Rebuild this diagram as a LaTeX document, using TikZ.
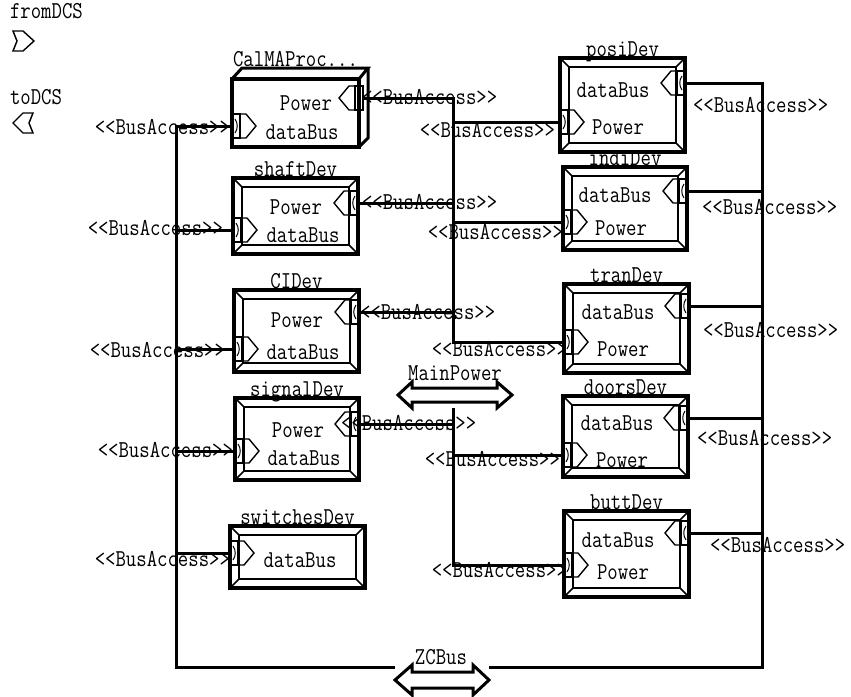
\documentclass[tikz,border=0pt]{standalone}
\usepackage{fontspec}
\usepackage{graphicx}
\newcommand\tx[1]{\scalebox{1}[1.2]{#1}}
\newcommand\ba{<{}<BusAccess>{}>}
\tikzset{
  frame/.style={draw, line width=3.6pt, inner sep=0pt, outer sep=0pt, rectangle},
  innerframe/.style={line width=2.4pt},
  bevel/.style={line width=1.6pt},
  bus/.style={line width=3pt, line join=miter},
  portline/.style={line width=1.4pt, line join=miter},
  txt/.style={inner sep=0pt, outer sep=0pt},
  portR/.pic={
    \draw[portline] (0,-12) rectangle (8,12);
    \draw[portline] (8,-12) -- (14,-12) -- (24,0) -- (14,12) -- (8,12);
    \draw[line width=1pt] (3,-7) .. controls (6,-3) and (6,3) .. (3,7);
  }
}
% text node: name, x, y, anchor, text
\newcommand\lab[5]{\node[txt,anchor=#4] (#1) at (#2,#3) {\tx{#5}};}
% device frame: name, x1, y1, x2, y2, title
\newcommand\devbox[6]{%
  \node[frame, minimum width={#4-#2}, minimum height={#5-#3}] (#1) at ({(#2+#4)/2},{(#3+#5)/2}) {};
  \draw[innerframe] ([shift={(9,9)}]#1.north west) rectangle ([shift={(-9,-9)}]#1.south east);
  \draw[bevel] (#1.north west) -- ++(9,9) (#1.north east) -- ++(-9,9)
               (#1.south west) -- ++(9,-9) (#1.south east) -- ++(-9,-9);
  \node[txt, anchor=base] (#1-t) at ([yshift=2pt]#1.north) {\tx{#6}};
}
\begin{document}
\begin{tikzpicture}[x=1pt, y=-1pt, font=\ttfamily\fontsize{20.2}{24}\selectfont]
\fill[white] (0,0) rectangle (851,696);
\useasboundingbox (0,0) rectangle (851,696);

% legend
\lab{lfrom}{10}{19}{base west}{fromDCS}
\draw[portline] (13,31) -- (23,31) -- (34,41) -- (23,51) -- (13,51) -- (17,41) -- cycle;
\lab{lto}{10}{104}{base west}{toDCS}
\draw[portline] (33,113) -- (23,113) -- (13,123) -- (23,133) -- (33,133) -- (29,123) -- cycle;

% CalMAProc (3D block)
\node[frame, minimum width=127, minimum height=68] (cal) at (295.5,113) {};
\draw[line width=3pt, line join=miter] (cal.north west) -- ([shift={(10,-11)}]cal.north west)
   -- ([shift={(9,-11)}]cal.north east) -- (cal.north east);
\draw[line width=3pt, line join=miter] ([shift={(9,-11)}]cal.north east) -- ([shift={(9,-9)}]cal.south east) -- (cal.south east);
\node[txt, anchor=base] (cal-t) at ([yshift=13pt]cal.north) {\tx{CalMAProc...}};
\lab{cal-pw}{306}{110}{base}{Power}
\lab{cal-db}{302}{139}{base}{dataBus}

% left column devices
\devbox{shaft}{233}{178}{358}{254}{shaftDev}
\lab{shaft-pw}{296}{214}{base}{Power}
\lab{shaft-db}{303}{242}{base}{dataBus}
\devbox{ci}{234}{290}{359}{372}{CIDev}
\lab{ci-pw}{297}{327}{base}{Power}
\lab{ci-db}{303}{359}{base}{dataBus}
\devbox{signal}{235}{398}{359}{480}{signalDev}
\lab{signal-pw}{298}{437}{base}{Power}
\lab{signal-db}{304}{465}{base}{dataBus}
\devbox{switches}{230}{526}{365}{588}{switchesDev}
\lab{switches-db}{300}{567}{base}{dataBus}

% right column devices
\devbox{posi}{560}{58}{685}{152}{posiDev}
\lab{posi-db}{613}{97}{base}{dataBus}
\lab{posi-pw}{618}{134}{base}{Power}
\devbox{indi}{563}{167}{687}{250}{indiDev}
\lab{indi-db}{615}{202}{base}{dataBus}
\lab{indi-pw}{621}{235}{base}{Power}
\devbox{tran}{564}{284}{689}{373}{tranDev}
\lab{tran-db}{618}{319}{base}{dataBus}
\lab{tran-pw}{623}{356}{base}{Power}
\devbox{doors}{563}{396}{688}{477}{doorsDev}
\lab{doors-db}{617}{430}{base}{dataBus}
\lab{doors-pw}{622}{467}{base}{Power}
\devbox{butt}{564}{511}{689}{597}{buttDev}
\lab{butt-db}{618}{547}{base}{dataBus}
\lab{butt-pw}{623}{579}{base}{Power}

% port attachment points
\coordinate (cal-d) at (232,126);   \coordinate (cal-p) at (363,98);
\coordinate (shaft-d) at (233,230); \coordinate (shaft-p) at (358,203);
\coordinate (ci-d) at (234,349);    \coordinate (ci-p) at (359,312);
\coordinate (signal-d) at (235,451); \coordinate (signal-p) at (359,424);
\coordinate (switches-d) at (230,553);
\coordinate (posi-p) at (560,122);  \coordinate (posi-d) at (685,83);
\coordinate (indi-p) at (563,222);  \coordinate (indi-d) at (687,191);
\coordinate (tran-p) at (564,342);  \coordinate (tran-d) at (689,306);
\coordinate (doors-p) at (563,455); \coordinate (doors-d) at (688,418);
\coordinate (butt-p) at (564,565);  \coordinate (butt-d) at (689,533);

% ports
\foreach \p in {cal-d,shaft-d,ci-d,signal-d,switches-d,posi-p,indi-p,tran-p,doors-p,butt-p}
  \pic at (\p) {portR};
\foreach \p in {cal-p,shaft-p,ci-p,signal-p,posi-d,indi-d,tran-d,doors-d,butt-d}
  \pic[xscale=-1] at (\p) {portR};

% bus arrows
\draw[line width=3pt, line join=miter] (398,395) -- (412,382) -- (412,388) -- (497,388) -- (497,382)
  -- (512,395) -- (497,408) -- (497,402) -- (412,402) -- (412,408) -- cycle;
\coordinate (mp-b) at (453,408);
\node[txt, anchor=base] (mp-t) at (455,380) {\tx{MainPower}};
\draw[line width=3pt, line join=miter] (395,680) -- (412,665) -- (412,672) -- (473,672) -- (473,665)
  -- (489,680) -- (473,695) -- (473,688) -- (412,688) -- (412,695) -- cycle;
\coordinate (zc-l) at (395,667);
\coordinate (zc-r) at (489,667);
\node[txt, anchor=base] (zc-t) at (441,664) {\tx{ZCBus}};

% ZCBus wiring
\coordinate (lb-top) at (176,126); \coordinate (lb-bot) at (176,667);
\coordinate (rb-top) at (762,83);  \coordinate (rb-bot) at (762,667);
\draw[bus] (cal-d) -- (lb-top) -- (lb-bot) -- (zc-l);
\draw[bus] (zc-r) -- (rb-bot) -- (rb-top) -- (posi-d);
\foreach \p in {shaft-d,ci-d,signal-d,switches-d} \draw[bus] (\p) -- (\p -| lb-top);
\foreach \p in {indi-d,tran-d,doors-d,butt-d} \draw[bus] (\p) -- (\p -| rb-top);

% MainPower wiring
\coordinate (mb-top) at (453,98); \coordinate (mb-mid) at (453,342);
\coordinate (mb-bot) at (453,565);
\draw[bus] (cal-p) -- (mb-top) -- (mb-mid) -- (tran-p);
\foreach \p in {shaft-p,ci-p,posi-p,indi-p} \draw[bus] (\p) -- (\p -| mb-top);
\draw[bus] (mp-b) -- (mb-bot) -- (butt-p);
\foreach \p in {signal-p,doors-p} \draw[bus] (\p) -- (\p -| mb-bot);

% stereotype labels
\lab{s1}{230}{134}{base east}{\ba}
\lab{s2}{223}{235}{base east}{\ba}
\lab{s3}{225}{357}{base east}{\ba}
\lab{s4}{233}{457}{base east}{\ba}
\lab{s5}{230}{566}{base east}{\ba}
\lab{s6}{362}{104}{base west}{\ba}
\lab{s7}{362}{209}{base west}{\ba}
\lab{s8}{360}{319}{base west}{\ba}
\lab{s9}{341}{430}{base west}{\ba}
\lab{s10}{555}{137}{base east}{\ba}
\lab{s11}{563}{239}{base east}{\ba}
\lab{s12}{567}{356}{base east}{\ba}
\lab{s13}{560}{466}{base east}{\ba}
\lab{s14}{567}{577}{base east}{\ba}
\lab{s15}{693}{112}{base west}{\ba}
\lab{s16}{702}{214}{base west}{\ba}
\lab{s17}{703}{337}{base west}{\ba}
\lab{s18}{697}{445}{base west}{\ba}
\lab{s19}{710}{552}{base west}{\ba}
\end{tikzpicture}
\end{document}
